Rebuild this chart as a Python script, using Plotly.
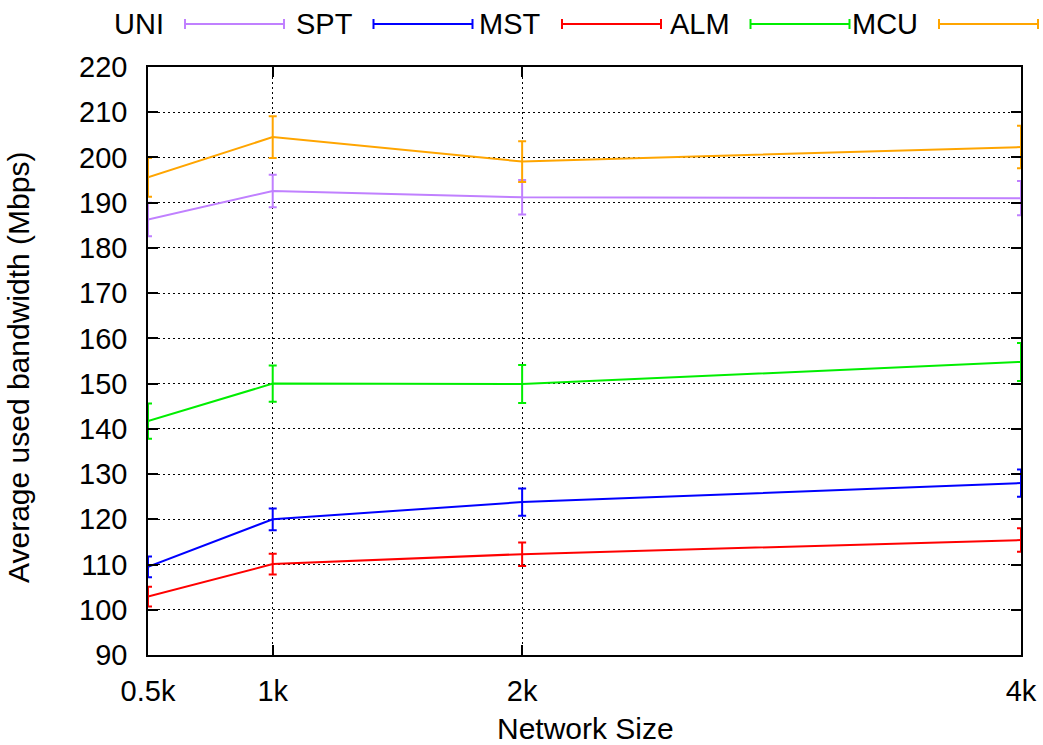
import plotly.graph_objects as go

# ---- data ----
network_size = [0.5, 1, 2, 4]
tick_labels = ["0.5k", "1k", "2k", "4k"]

series_names = ["UNI", "SPT", "MST", "ALM", "MCU"]
uni = [186.3, 192.6, 191.2, 191.0]
uni_err = [3.7, 3.6, 3.8, 3.8]
spt = [109.5, 120.0, 123.8, 128.0]
spt_err = [2.3, 2.4, 3.0, 3.0]
mst = [102.9, 110.1, 112.3, 115.4]
mst_err = [2.2, 2.3, 2.6, 2.6]
alm = [141.7, 150.0, 149.9, 154.8]
alm_err = [3.9, 4.0, 4.2, 4.2]
mcu = [195.6, 204.5, 199.1, 202.3]
mcu_err = [4.3, 4.6, 4.5, 4.7]

colors = ["#C080FF", "#0000FF", "#FF0000", "#00EE00", "#FFA500"]
values = [uni, spt, mst, alm, mcu]
errors = [uni_err, spt_err, mst_err, alm_err, mcu_err]

FONT = "Liberation Sans, Arial, Helvetica, sans-serif"
FS = 29
FS_TITLE = 30

W, H = 1043, 745
L, R, T, B = 148, 22, 67, 90
PW, PH = W - L - R, H - T - B

fig = go.Figure()
for name, ys, es, c in zip(series_names, values, errors, colors):
    fig.add_trace(go.Scatter(
        x=network_size, y=ys, name=name, mode="lines",
        line=dict(color=c, width=2),
        error_y=dict(type="data", array=es, visible=True, color=c,
                     thickness=2, width=4),
        showlegend=False,
    ))

# custom gnuplot-style key: text then sample line with caps
def px(xp):
    return (xp - L) / PW

def py(yp):
    return (H - B - yp) / PH

shapes = []
annotations = []
key_y = 24
for i, (name, c) in enumerate(zip(series_names, colors)):
    x0 = 185 + i * 188.5
    x1 = x0 + 99
    annotations.append(dict(
        x=px(x0 - 19), y=py(key_y), xref="paper", yref="paper",
        text=name, showarrow=False, xanchor="right", yanchor="middle",
        font=dict(family=FONT, size=FS, color="black"),
    ))
    shapes.append(dict(type="line", xref="paper", yref="paper",
                       x0=px(x0), x1=px(x1), y0=py(key_y), y1=py(key_y),
                       line=dict(color=c, width=2)))
    for xc in (x0, x1):
        shapes.append(dict(type="line", xref="paper", yref="paper",
                           x0=px(xc), x1=px(xc), y0=py(key_y - 5), y1=py(key_y + 5),
                           line=dict(color=c, width=2)))

annotations.append(dict(
    x=(585 - L) / PW, y=py(728), xref="paper", yref="paper", text="Network Size",
    showarrow=False, xanchor="center", yanchor="middle",
    font=dict(family=FONT, size=FS_TITLE, color="black"),
))
annotations.append(dict(
    x=px(18), y=py(368), xref="paper", yref="paper",
    text="Average used bandwidth (Mbps)", textangle=-90,
    showarrow=False, xanchor="center", yanchor="middle",
    font=dict(family=FONT, size=FS_TITLE, color="black"),
))

fig.update_layout(
    width=W, height=H,
    margin=dict(l=L, r=R, t=T, b=B, autoexpand=False),
    plot_bgcolor="white", paper_bgcolor="white",
    font=dict(family=FONT, size=FS, color="black"),
    shapes=shapes, annotations=annotations,
    showlegend=False,
)
fig.update_xaxes(
    range=[0.5, 4], tickvals=network_size, ticktext=tick_labels,
    showline=True, linecolor="black", linewidth=1.5, mirror="ticks",
    ticks="inside", ticklen=10, tickwidth=1.5, tickcolor="black",
    showgrid=True, gridcolor="black", gridwidth=1, griddash="2px,3px",
    zeroline=False, ticklabelstandoff=9,
)
fig.update_yaxes(
    range=[90, 220], dtick=10, tick0=90,
    showline=True, linecolor="black", linewidth=1.5, mirror="ticks",
    ticks="inside", ticklen=10, tickwidth=1.5, tickcolor="black",
    showgrid=True, gridcolor="black", gridwidth=1, griddash="2px,3px",
    zeroline=False, ticklabelstandoff=13,
)

fig.write_html("out.html", config={"displayModeBar": False},
               post_script="document.body.style.margin='0';")
